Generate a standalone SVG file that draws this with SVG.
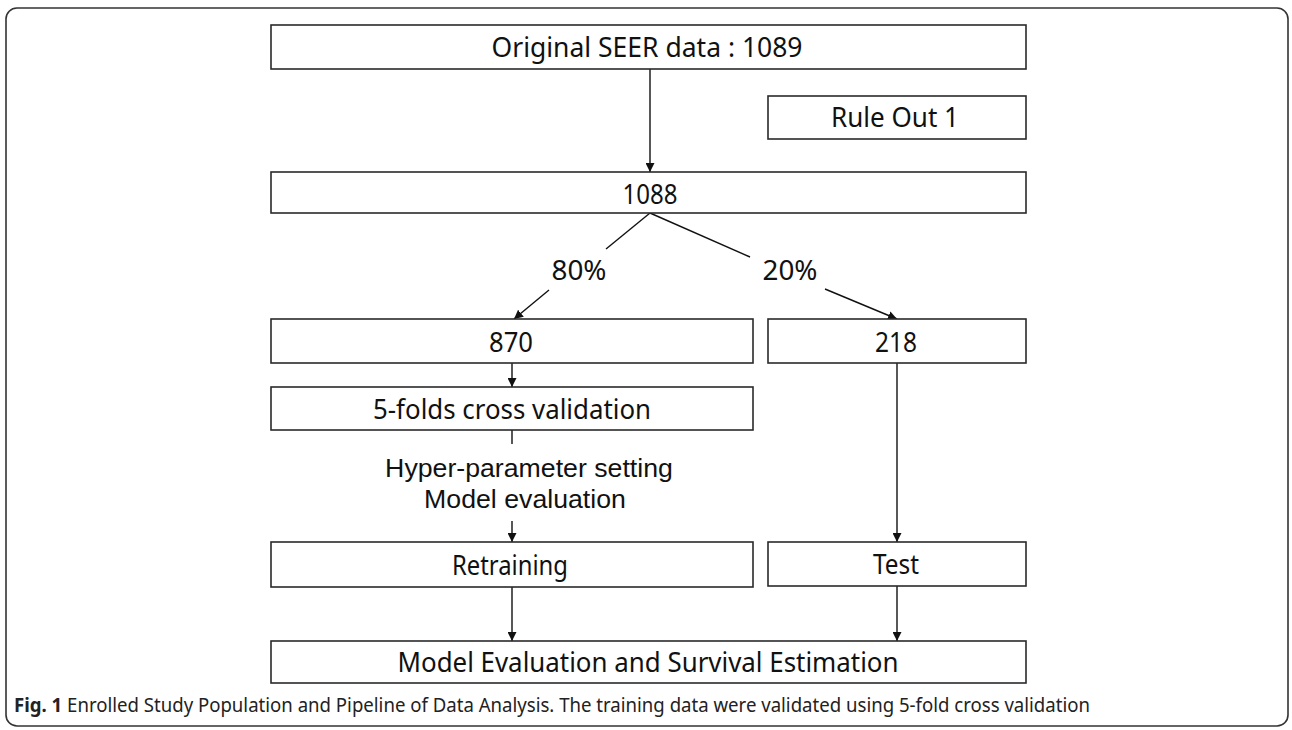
<svg xmlns="http://www.w3.org/2000/svg" width="1292" height="730" viewBox="0 0 1292 730">
  <defs>
    <marker id="arrow" viewBox="0 0 10 10" refX="10" refY="5" markerWidth="9" markerHeight="9" markerUnits="userSpaceOnUse" orient="auto">
      <path d="M0,0 L10,5 L0,10 z" fill="#111"/>
    </marker>
    <style>
      .box { fill: #fff; stroke: #2a2a2a; stroke-width: 1.6; }
      .t { font-family: "Noto Sans", "Open Sans", sans-serif; font-size: 27px; fill: #111; text-anchor: middle; }
      .lbl { font-family: "Noto Sans", "Open Sans", sans-serif; font-size: 28px; fill: #111; text-anchor: middle; }
      .a { font-family: "Liberation Sans", Arial, sans-serif; font-size: 26.7px; fill: #111; text-anchor: middle; }
      .cap { font-family: "Noto Sans", "Open Sans", sans-serif; font-size: 20px; fill: #222; }
      .ln { stroke: #111; stroke-width: 1.4; fill: none; }
      .frame { fill: #fff; stroke: #333; stroke-width: 1.6; }
    </style>
  </defs>
  <rect x="0" y="0" width="1292" height="730" fill="#fff"/>
  <rect class="frame" x="6" y="8" width="1282" height="718" rx="11" ry="11"/>

  <g id="connectors">
    <line class="ln" x1="650" y1="69" x2="650" y2="172" marker-end="url(#arrow)"/>
    <line class="ln" x1="650" y1="213" x2="606" y2="249"/>
    <line class="ln" x1="549" y1="290" x2="514" y2="319" marker-end="url(#arrow)"/>
    <line class="ln" x1="650" y1="213" x2="750" y2="257"/>
    <line class="ln" x1="825" y1="289" x2="897" y2="319" marker-end="url(#arrow)"/>
    <line class="ln" x1="512" y1="363" x2="512" y2="387" marker-end="url(#arrow)"/>
    <line class="ln" x1="512" y1="430" x2="512" y2="444"/>
    <line class="ln" x1="512" y1="521" x2="512" y2="542" marker-end="url(#arrow)"/>
    <line class="ln" x1="897" y1="363" x2="897" y2="542" marker-end="url(#arrow)"/>
    <line class="ln" x1="512" y1="587" x2="512" y2="641" marker-end="url(#arrow)"/>
    <line class="ln" x1="897" y1="586" x2="897" y2="641" marker-end="url(#arrow)"/>
    <text class="lbl" x="579" y="280" textLength="55" lengthAdjust="spacingAndGlyphs">80%</text>
    <text class="lbl" x="790" y="280" textLength="55" lengthAdjust="spacingAndGlyphs">20%</text>
  </g>

  <g id="node-original">
    <rect class="box" x="271" y="25" width="755" height="44"/>
    <text class="t" x="647" y="57" textLength="311" lengthAdjust="spacingAndGlyphs">Original SEER data : 1089</text>
  </g>
  <g id="node-ruleout">
    <rect class="box" x="768" y="96" width="258" height="43"/>
    <text class="t" x="895" y="127" textLength="128" lengthAdjust="spacingAndGlyphs">Rule Out 1</text>
  </g>
  <g id="node-1088">
    <rect class="box" x="271" y="172" width="755" height="41"/>
    <text class="t" x="650" y="204" textLength="55" lengthAdjust="spacingAndGlyphs">1088</text>
  </g>
  <g id="node-870">
    <rect class="box" x="271" y="319" width="482" height="44"/>
    <text class="t" x="511" y="352" textLength="44" lengthAdjust="spacingAndGlyphs">870</text>
  </g>
  <g id="node-218">
    <rect class="box" x="768" y="319" width="258" height="44"/>
    <text class="t" x="896" y="352" textLength="42" lengthAdjust="spacingAndGlyphs">218</text>
  </g>
  <g id="node-5fold">
    <rect class="box" x="271" y="387" width="482" height="43"/>
    <text class="t" x="512" y="419" textLength="278" lengthAdjust="spacingAndGlyphs">5-folds cross validation</text>
  </g>
  <g id="node-hyper">
    <text class="a" x="529" y="477">Hyper-parameter setting</text>
    <text class="a" x="525" y="508">Model evaluation</text>
  </g>
  <g id="node-retraining">
    <rect class="box" x="271" y="542" width="482" height="45"/>
    <text class="t" x="510" y="575" textLength="116" lengthAdjust="spacingAndGlyphs">Retraining</text>
  </g>
  <g id="node-test">
    <rect class="box" x="768" y="542" width="258" height="44"/>
    <text class="t" x="896" y="574" textLength="46" lengthAdjust="spacingAndGlyphs">Test</text>
  </g>
  <g id="node-final">
    <rect class="box" x="271" y="641" width="755" height="42"/>
    <text class="t" x="648" y="672" textLength="501" lengthAdjust="spacingAndGlyphs">Model Evaluation and Survival Estimation</text>
  </g>
  <g id="caption">
    <text class="cap" x="14" y="712" textLength="1076" lengthAdjust="spacingAndGlyphs"><tspan font-weight="bold">Fig. 1</tspan> Enrolled Study Population and Pipeline of Data Analysis. The training data were validated using 5-fold cross validation</text>
  </g>
</svg>
